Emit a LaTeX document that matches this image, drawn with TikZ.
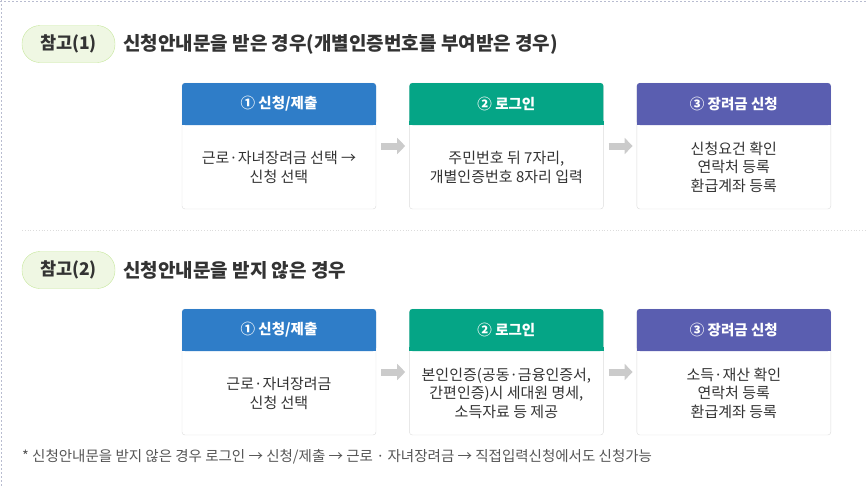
\documentclass[tikz,border=0pt]{standalone}
\usepackage{fontspec}
\setmainfont{Noto Sans CJK KR}
\usetikzlibrary{positioning,arrows.meta,calc}
\definecolor{StepBlue}{HTML}{2F7DC8}
\definecolor{StepGreen}{HTML}{05A586}
\definecolor{StepPurple}{HTML}{5A5EB0}
\definecolor{TagFill}{HTML}{EFF7E3}
\definecolor{TagLine}{HTML}{C6E79C}
\definecolor{TextDark}{HTML}{333333}
\definecolor{NoteGray}{HTML}{555555}
\definecolor{BoxLine}{HTML}{DCDCDC}
\definecolor{ArrowGray}{HTML}{CBCBCB}
\definecolor{EdgeDots}{HTML}{B8BCD0}
\tikzset{
  tag/.style={draw=TagLine, fill=TagFill, rounded corners=18pt, minimum width=93pt, minimum height=37pt,
    inner sep=0pt, text=TextDark, font=\bfseries\fontsize{17.5}{20}\selectfont},
  heading/.style={inner sep=0pt, text=TextDark, font=\bfseries\fontsize{19}{22}\selectfont},
  frame/.style={draw=BoxLine, fill=white, rounded corners=3pt, minimum width=194pt, minimum height=126pt, inner sep=0pt},
  stephead/.style={fill=#1, rounded corners=3pt, minimum width=194pt, minimum height=42pt, inner sep=0pt,
    text=white, font=\bfseries\fontsize{14.5}{17}\selectfont},
  steptext/.style={align=center, inner sep=0pt, text=TextDark, font=\fontsize{15}{18.5}\selectfont},
  grayarrow/.style={ArrowGray, line width=7pt, -{Triangle[length=8pt,width=16pt]}},
}

\begin{document}
\begin{tikzpicture}[x=1pt,y=-1pt]
    \useasboundingbox (0,0) rectangle (866,488);
%    edge dots
    \draw[EdgeDots, line width=1.5pt, dash pattern=on 1.5pt off 2.5pt] (0,1.5) -- (866,1.5);
    \draw[EdgeDots, line width=1.5pt, dash pattern=on 1.5pt off 2.5pt] (1.5,0) -- (1.5,488);
    \draw[BoxLine, dotted, thick] (22,230) -- (866,230);

%    first case
    \node[tag] (tag1) at (68.5,44) {참고(1)};
    \node[heading, right=8pt of tag1] (title1) {신청안내문을 받은 경우(개별인증번호를 부여받은 경우)};

    \node[frame] (box1) at (279,146) {};
    \node[frame, right=33pt of box1] (box2) {};
    \node[frame, right=33pt of box2] (box3) {};
    \foreach \b/\c/\t in {1/StepBlue/{① 신청/제출}, 2/StepGreen/{② 로그인}, 3/StepPurple/{③ 장려금 신청}} {
        \node[stephead=\c, anchor=north] (head\b) at (box\b.north) {\t};
        \fill[\c] ([yshift=4pt]head\b.south west) rectangle (head\b.south east);
    }
    \node[steptext] (text1) at ($(head1.south)!0.5!(box1.south)$) {근로·자녀장려금 선택 →\\신청 선택};
    \node[steptext] (text2) at ($(head2.south)!0.5!(box2.south)$) {주민번호 뒤 7자리,\\개별인증번호 8자리 입력};
    \node[steptext] (text3) at ($(head3.south)!0.5!(box3.south)$) {신청요건 확인\\연락처 등록\\환급계좌 등록};
    \draw[grayarrow] ([xshift=5pt]box1.east) -- ([xshift=-4pt]box2.west);
    \draw[grayarrow] ([xshift=5pt]box2.east) -- ([xshift=-4pt]box3.west);

%    second case
    \node[tag] (tag2) at (68.5,270) {참고(2)};
    \node[heading, right=8pt of tag2] (title2) {신청안내문을 받지 않은 경우};

    \node[frame] (box4) at (279,372) {};
    \node[frame, right=33pt of box4] (box5) {};
    \node[frame, right=33pt of box5] (box6) {};
    \foreach \b/\c/\t in {4/StepBlue/{① 신청/제출}, 5/StepGreen/{② 로그인}, 6/StepPurple/{③ 장려금 신청}} {
        \node[stephead=\c, anchor=north] (head\b) at (box\b.north) {\t};
        \fill[\c] ([yshift=4pt]head\b.south west) rectangle (head\b.south east);
    }
    \node[steptext] (text4) at ($(head4.south)!0.5!(box4.south)$) {근로·자녀장려금\\신청 선택};
    \node[steptext] (text5) at ($(head5.south)!0.5!(box5.south)$) {본인인증(공동·금융인증서,\\간편인증)시 세대원 명세,\\소득자료 등 제공};
    \node[steptext] (text6) at ($(head6.south)!0.5!(box6.south)$) {소득·재산 확인\\연락처 등록\\환급계좌 등록};
    \draw[grayarrow] ([xshift=5pt]box4.east) -- ([xshift=-4pt]box5.west);
    \draw[grayarrow] ([xshift=5pt]box5.east) -- ([xshift=-4pt]box6.west);

    \node[anchor=west, inner sep=0pt, text=NoteGray, font=\fontsize{14.5}{17}\selectfont] (note) at (22,457)
        {* 신청안내문을 받지 않은 경우 로그인 → 신청/제출 → 근로 · 자녀장려금 → 직접입력신청에서도 신청가능};
\end{tikzpicture}
\end{document}
